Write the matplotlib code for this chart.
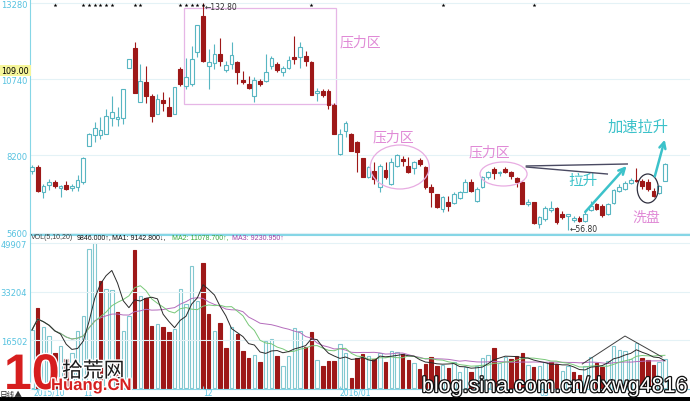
import numpy as np
import pandas as pd
import matplotlib
matplotlib.use("Agg")
import matplotlib.pyplot as plt
from matplotlib.patches import Rectangle, Ellipse
import matplotlib.patheffects as pe

plt.rcParams["font.family"] = ["Noto Sans CJK SC", "DejaVu Sans"]

# ── Data ───────────────────────────────────────────────────────────────────────
opens = [7666, 7799, 6964, 7198, 7298, 7098, 7198, 7098, 7131, 7298,
         8502, 8869, 8869, 8902, 9437, 9404, 9437, 11108, 11776, 9972,
         10640, 10172, 9571, 10039, 9805, 9571, 11075, 10507, 10573, 11643,
         12846, 11175, 11275, 11576, 11041, 11242, 11309, 10707, 10573, 10172,
         10674, 10674, 11175, 11242, 10974, 11108, 11476, 11476, 11509, 11309,
         10272, 10339, 10339, 9871, 8234, 9003, 8902, 8635, 8100, 7465,
         7666, 7131, 7699, 7231, 7833, 8067, 7833, 7766, 8034, 7799,
         7131, 6897, 6396, 6630, 6596, 6764, 6964, 7298, 6663, 7131,
         7465, 7733, 7599, 7733, 7632, 7432, 7298, 6563, 6630, 5894,
         6061, 6362, 6429, 6229, 6162, 6028, 6095, 5995, 6362, 6563,
         6496, 6229, 6596, 6997, 7064, 7265, 7365, 7331, 7298, 6997,
         6931, 7331]
highs = [7866, 7866, 7231, 7398, 7365, 7198, 7331, 7231, 7532, 8134,
         8935, 9303, 9470, 9738, 10172, 9805, 10406, 11409, 11977, 11242,
         11175, 10239, 10239, 10306, 10139, 10473, 11141, 11442, 11843, 12545,
         13280, 11743, 11910, 12110, 11342, 11977, 11342, 11008, 10841, 10807,
         10740, 11576, 11509, 11309, 11175, 11509, 12177, 11977, 11676, 11342,
         10440, 10406, 10406, 9938, 9069, 9337, 8935, 8668, 8100, 7833,
         7967, 7900, 7967, 8100, 8234, 8167, 8134, 8000, 8100, 7833,
         7231, 6897, 6830, 6830, 6964, 6997, 7398, 7398, 7131, 7499,
         7666, 7799, 7666, 7799, 7666, 7465, 7331, 6730, 6630, 6162,
         6496, 6663, 6463, 6329, 6229, 6162, 6162, 6296, 6663, 6596,
         6563, 6596, 7064, 7231, 7331, 7432, 7766, 7398, 7398, 7098,
         7198, 7933]
lows = [7565, 6964, 6764, 7031, 7098, 6797, 7031, 6997, 6997, 7231,
        8502, 8635, 8735, 8902, 9170, 9170, 9236, 11108, 10272, 9972,
        9938, 9303, 9571, 9671, 9504, 9571, 10507, 10406, 10507, 11476,
        11309, 10406, 11075, 11175, 10974, 11075, 10573, 10573, 10406, 9972,
        10507, 10640, 11075, 10974, 10841, 11075, 11242, 11108, 11175, 10206,
        10005, 10139, 9738, 8902, 8200, 8802, 8334, 7632, 7465, 7432,
        7231, 6964, 7398, 7198, 7799, 7833, 7599, 7565, 7833, 7064,
        6463, 6429, 6296, 6329, 6563, 6730, 6964, 6964, 6630, 7098,
        7398, 7398, 7499, 7599, 7398, 7131, 6563, 6496, 5894, 5750,
        5995, 6296, 5894, 6061, 5680, 5961, 5961, 5961, 6329, 6362,
        6128, 6195, 6563, 6964, 7031, 7231, 7298, 7064, 6997, 6797,
        6897, 7331]
closes = [7799, 6997, 7164, 7298, 7164, 7164, 7064, 7164, 7365, 8100,
          8902, 9103, 9036, 9504, 9637, 9470, 10406, 11409, 10272, 10674,
          10172, 9504, 10072, 9938, 9504, 10473, 10573, 10807, 11409, 12545,
          11342, 11309, 11576, 11342, 11208, 11543, 10974, 10640, 10440, 10707,
          10573, 10974, 11442, 11041, 11108, 11375, 11409, 11810, 11342, 10206,
          10339, 10206, 9871, 8902, 8902, 9270, 8334, 8301, 7465, 7799,
          7398, 7833, 7465, 7967, 8200, 8000, 7632, 7967, 7900, 7131,
          6964, 6463, 6797, 6496, 6897, 6964, 7298, 6997, 7064, 7465,
          7632, 7599, 7632, 7632, 7499, 7298, 6563, 6630, 5928, 6128,
          6429, 6429, 5961, 6128, 6229, 6095, 5995, 6229, 6496, 6396,
          6195, 6563, 7031, 7131, 7265, 7365, 7331, 7164, 7064, 6830,
          7164, 7900]
volumes = [20000, 27500, 21000, 17900, 12000, 14500, 10000, 12000, 19600, 24800,
           48000, 49900, 36800, 34000, 33700, 26200, 19600, 24800, 47500, 31700,
           31000, 21300, 22000, 21000, 19300, 20300, 34000, 28900, 42000, 30000,
           43000, 25500, 19600, 22400, 13800, 21000, 18600, 12700, 10300, 11400,
           9000, 16200, 16900, 11000, 7600, 11000, 20700, 19600, 14100, 19300,
           9600, 7600, 9300, 9300, 15200, 12000, 3400, 10300, 11700, 11000,
           10000, 12000, 9000, 12700, 12400, 11700, 9600, 8600, 6500, 8300,
           10700, 7600, 7900, 6900, 9000, 5500, 7200, 5500, 7600, 10300,
           11400, 13800, 8600, 10700, 10000, 11000, 12000, 7900, 7200, 7600,
           9000, 9000, 8300, 5900, 7600, 5500, 4500, 7600, 10700, 8600,
           7200, 9300, 14500, 13100, 12700, 10000, 15500, 10300, 9600, 7900,
           9000, 10000]
vol_dir = ["u", "d", "u", "u", "d", "u", "d", "u", "u", "u",
           "u", "u", "d", "u", "u", "d", "u", "u", "d", "u",
           "d", "d", "u", "d", "d", "u", "u", "u", "u", "u",
           "d", "d", "u", "d", "d", "u", "d", "d", "d", "u",
           "d", "u", "u", "d", "u", "u", "u", "u", "d", "d",
           "u", "d", "d", "d", "u", "u", "d", "d", "d", "u",
           "d", "u", "d", "u", "u", "d", "d", "u", "d", "d",
           "d", "d", "u", "d", "u", "u", "u", "d", "u", "u",
           "u", "d", "u", "u", "d", "d", "d", "u", "d", "u",
           "u", "d", "d", "u", "u", "d", "d", "u", "u", "d",
           "d", "u", "u", "u", "u", "u", "u", "d", "d", "d",
           "u", "u"]

price_ticks = [5600, 8200, 10740, 13280]
vol_ticks = [16502, 33204, 49907]
mine_idx = [4, 9, 10, 11, 12, 13, 14, 18, 19, 26, 27, 28, 29, 30, 49, 72, 88]
month_idx = [0.3, 9, 30, 54, 89]
month_labels = ["2015/10", "11", "12", "2016/01", "03"]
vol_header = [("VOL(5,10,20)", "#404040"), ("9846.000↑,", "#101010"),
              ("MA1: 9142.800↓,", "#101010"), ("MA2: 11078.700↑,", "#3aa83a"),
              ("MA3: 9230.950↑", "#a040a8")]

# ── Style ──────────────────────────────────────────────────────────────────────
RED    = "#9e1818"
CYAN   = "#58b6c2"
VCYAN  = "#82c8d0"
AXCOL  = "#86d6e6"
LBLCOL = "#56c2e0"
PINK   = "#e08ad6"
TEAL   = "#3cc2ca"
NUMFONT = ["DejaVu Sans"]

W, H = 690, 402
fig = plt.figure(figsize=(W / 100, H / 100), dpi=100)
fx = lambda px: px / W
fy = lambda py: 1 - py / H

ax  = fig.add_axes([fx(30), fy(235), fx(660), 235 / H])
axv = fig.add_axes([fx(30), fy(390), fx(660), 154 / H])

x = np.arange(len(opens))
o, hi, lo, c = (np.array(a, dtype=float) for a in (opens, highs, lows, closes))
up = c >= o

# ── Candles ────────────────────────────────────────────────────────────────────
ax.vlines(x[up], lo[up], hi[up], color=CYAN, lw=0.8, zorder=2)
ax.vlines(x[~up], lo[~up], hi[~up], color=RED, lw=0.8, zorder=2)
body_lo = np.minimum(o, c)
body_h = np.maximum(np.abs(c - o), 30)
ax.bar(x[up], body_h[up], bottom=body_lo[up], width=0.66,
       facecolor="white", edgecolor=CYAN, lw=0.8, zorder=3)
ax.bar(x[~up], body_h[~up], bottom=body_lo[~up], width=0.66,
       facecolor=RED, edgecolor=RED, lw=0.8, zorder=3)

ax.set_xlim(-0.35, 115.4)
ax.set_ylim(5560, 13414)
ax.set_yticks(price_ticks)
ax.set_yticklabels([str(t) for t in price_ticks], fontfamily=NUMFONT)
ax.tick_params(axis="y", colors=LBLCOL, labelsize=6, length=0, pad=2)
ax.set_xticks([])
ax.grid(axis="y", color="#e4f2f6", lw=0.8)
for s in ("top", "right"):
    ax.spines[s].set_visible(False)
for s in ("left", "bottom"):
    ax.spines[s].set_color(AXCOL)

ax.scatter(mine_idx, [13213] * len(mine_idx), marker="*", s=9, color="black",
           lw=0, zorder=4)
ax.text(30.3, 13170, "←132.80", fontsize=5.5, color="#303030", va="center",
        ha="left", fontfamily=NUMFONT)
ax.text(94.3, 5740, "←56.80", fontsize=5.5, color="#303030", va="center",
        ha="left", fontfamily=NUMFONT)

# ── Annotations ────────────────────────────────────────────────────────────────
ax.add_patch(Rectangle((26.7, 9905), 26.6, 3208, fill=False,
                       edgecolor="#e6b6e6", lw=0.9, zorder=1))
ax.add_patch(Ellipse((64.5, 7799), 10.35, 1470, fill=False,
                     edgecolor="#e8ace2", lw=0.9, zorder=4))
ax.add_patch(Ellipse((82.7, 7565), 8.25, 802, fill=False,
                     edgecolor="#e8ace2", lw=0.9, zorder=4))
ax.add_patch(Ellipse((108.0, 7081), 3.7, 969, fill=False,
                     edgecolor="#303040", lw=0.9, zorder=4))
ax.plot([86.7, 104.4], [7833, 7900], color="#4a4a62", lw=1.0, zorder=4)
ax.plot([86.7, 100.9], [7799, 7565], color="#4a4a62", lw=1.0, zorder=4)
ax.annotate("", xy=(104.6, 7900), xytext=(96.7, 6229), zorder=5,
            arrowprops=dict(arrowstyle="->", color=TEAL, lw=1.8, mutation_scale=11))
ax.annotate("", xy=(111.1, 8802), xytext=(109.1, 7398), zorder=5,
            arrowprops=dict(arrowstyle="->", color=TEAL, lw=1.8, mutation_scale=11))

ax.text(54.0, 12010, "压力区", fontsize=10, color=PINK, va="center", ha="left")
ax.text(59.8, 8835, "压力区", fontsize=10, color=PINK, va="center", ha="left")
ax.text(76.5, 8334, "压力区", fontsize=10, color=PINK, va="center", ha="left")
ax.text(94.0, 7365, "拉升", fontsize=10.5, color=TEAL, va="center", ha="left")
ax.text(101.0, 9153, "加速拉升", fontsize=11, color=TEAL, va="center", ha="left")
ax.text(105.3, 6128, "洗盘", fontsize=10, color=PINK, va="center", ha="left")

# ── Volume ─────────────────────────────────────────────────────────────────────
vol = np.array(volumes, dtype=float)
vup = np.array([d == "u" for d in vol_dir])
axv.bar(x[vup], vol[vup], width=0.6, facecolor="white", edgecolor=VCYAN, lw=0.8)
axv.bar(x[~vup], vol[~vup], width=0.6, facecolor=RED, edgecolor=RED, lw=0.8)
vs = pd.Series(vol)
for n, col in [(20, "#b46cbc"), (10, "#78c878"), (5, "#2a2a2a")]:
    axv.plot(x, vs.rolling(n, min_periods=1).mean(), color=col, lw=0.7)
axv.plot([96.5, 104.0, 110.5], [8266, 17900, 10680], color="#404040", lw=0.7)

axv.set_xlim(ax.get_xlim())
axv.set_ylim(-344, 52693)
axv.set_yticks(vol_ticks)
axv.set_yticklabels([str(t) for t in vol_ticks], fontfamily=NUMFONT)
axv.tick_params(axis="y", colors=LBLCOL, labelsize=6, length=0, pad=2)
axv.set_xticks(month_idx)
axv.set_xticklabels([])
axv.tick_params(axis="x", colors=AXCOL, direction="in", length=2)
axv.grid(axis="y", color="#e4f2f6", lw=0.8)
axv.spines["right"].set_visible(False)
for s in ("left", "bottom", "top"):
    axv.spines[s].set_color(AXCOL)
for xi, lab in zip(month_idx, month_labels):
    axv.text(xi, -1500, lab, fontsize=5.5, color=LBLCOL, va="center", ha="left",
             clip_on=False, fontfamily=NUMFONT)

# header line of the volume panel
hx = [31, 77, 112, 172, 232]
for px, (txt, col) in zip(hx, vol_header):
    fig.text(fx(px), fy(238), txt, fontsize=5, color=col, va="center", ha="left",
             fontfamily=["Liberation Sans", "DejaVu Sans"])

# current price tag
fig.add_artist(Rectangle((0, fy(77)), fx(31), 11 / H, transform=fig.transFigure,
                         facecolor="#f6f69a", edgecolor="none"))
fig.text(fx(1), fy(71.5), "109.00", fontsize=5.8, color="black", va="center",
         ha="left", fontfamily=NUMFONT)

# bottom strip
fig.text(fx(0), fy(395), "日线▲", fontsize=5.5, color="#303030", va="center", ha="left")
fig.add_artist(Rectangle((0, 0), 1, 4 / H, transform=fig.transFigure,
                         facecolor="black", edgecolor="none"))

# watermarks
white_edge = [pe.withStroke(linewidth=2, foreground="white")]
fig.text(fx(4), fy(390), "10", fontsize=36, weight="bold", color="#d61e1e",
         va="baseline", ha="left", fontfamily=["Liberation Sans"], path_effects=white_edge)
fig.text(fx(62), fy(378), "拾荒网", fontsize=15, color="#1a1a1a", va="baseline",
         ha="left", path_effects=white_edge)
fig.text(fx(51), fy(391), "Huang.CN", fontsize=12, weight="bold", color="#d62020",
         va="baseline", ha="left", fontfamily=["Liberation Sans"], path_effects=white_edge)
fig.text(fx(687), fy(393), "blog.sina.com.cn/dxwg4816", fontsize=15.5, color="white",
         va="baseline", ha="right", fontfamily=["Liberation Sans"],
         path_effects=[pe.withStroke(linewidth=1.8, foreground="#111111")])

fig.savefig("out.png", dpi=100)
